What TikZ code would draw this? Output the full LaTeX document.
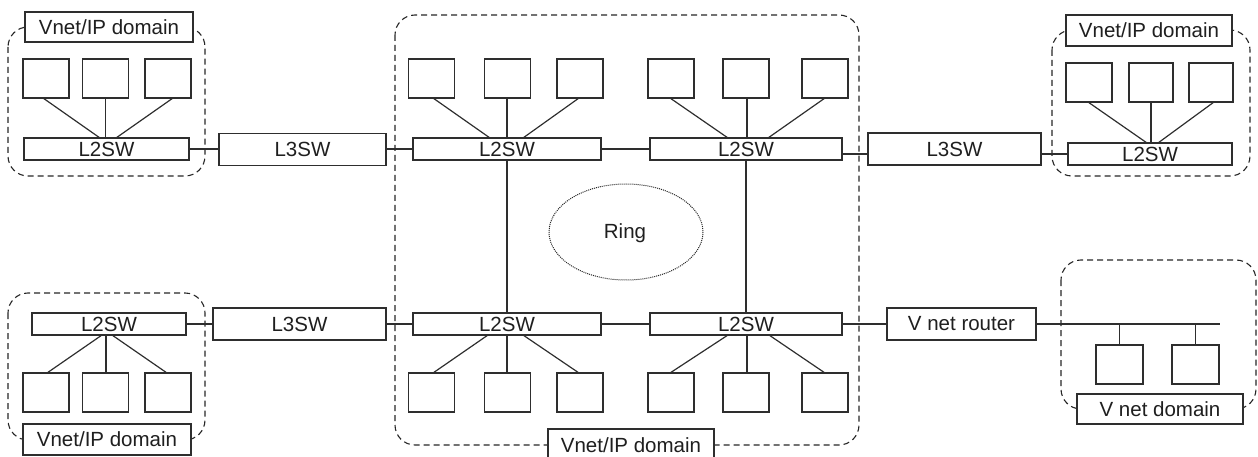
\documentclass[tikz,border=0pt]{standalone}
\usepackage{fontspec}
\setmainfont{Liberation Sans}
\begin{document}
\begin{tikzpicture}[x=1pt,y=-1pt,
  every node/.style={inner sep=0pt, outer sep=0pt, font=\fontsize{20.5}{24}\selectfont, text=black!88},
  ln/.style={draw=black!82, line width=1.2pt},
  dev/.style={ln, fill=white, minimum width=46pt, minimum height=39pt},
  sw/.style={ln, fill=white, minimum height=22pt},
  l3/.style={ln, fill=white, minimum height=32pt},
  lbl/.style={ln, fill=white, minimum height=31pt, minimum width=167pt},
  dom/.style={draw=black!85, line width=1.1pt, dash pattern=on 6pt off 4pt, rounded corners=20pt},
  ring/.style={draw=black!85, line width=1pt, dash pattern=on 1pt off 1pt}]
\useasboundingbox (0,0) rectangle (1258,457);

% domain outlines
\draw[dom] (8,27) rectangle (205,176);
\draw[dom] (395,15) rectangle (859,445);
\draw[dom] (1052,30) rectangle (1250,176);
\draw[dom] (8,293) rectangle (205,440);
\draw[dom] (1061,260) rectangle (1256,409);

% ring
\draw[ring] (626,232) ellipse [x radius=77, y radius=48];
\node (ringtxt) at (625,233) {Ring};

% top-left domain
\node[dev] (t1) at (46,78.5) {};
\node[dev] (t2) at (105.5,78.5) {};
\node[dev] (t3) at (168,78.5) {};
\node[sw, minimum width=165pt] (tl2) at (106.5,149) {L2SW};
\node[l3, minimum width=167pt] (tl3) at (302.5,149.5) {L3SW};

% centre top
\node[dev] (ca1) at (431.5,78.5) {};
\node[dev] (ca2) at (507.5,78.5) {};
\node[dev] (ca3) at (580,78.5) {};
\node[dev] (cb1) at (671,78.5) {};
\node[dev] (cb2) at (746,78.5) {};
\node[dev] (cb3) at (825,78.5) {};
\node[sw, minimum width=188pt] (cA) at (507,149) {L2SW};
\node[sw, minimum width=192pt] (cB) at (746,149) {L2SW};

% centre bottom
\node[dev] (cc1) at (431.5,392.5) {};
\node[dev] (cc2) at (507.5,392.5) {};
\node[dev] (cc3) at (580,392.5) {};
\node[dev] (cd1) at (671,392.5) {};
\node[dev] (cd2) at (746,392.5) {};
\node[dev] (cd3) at (825,392.5) {};
\node[sw, minimum width=188pt] (cC) at (507,324) {L2SW};
\node[sw, minimum width=192pt] (cD) at (746,324) {L2SW};

% top-right domain
\node[dev] (r1) at (1089,82.5) {};
\node[dev, minimum width=44pt] (r2) at (1151,82.5) {};
\node[dev, minimum width=44pt] (r3) at (1211,82.5) {};
\node[sw, minimum width=164pt] (tr2) at (1150,154) {L2SW};
\node[l3, minimum width=173pt] (tr3) at (954.5,149) {L3SW};

% bottom-left domain
\node[dev] (b1) at (46,392.5) {};
\node[dev] (b2) at (105.5,392.5) {};
\node[dev] (b3) at (168,392.5) {};
\node[sw, minimum width=154pt] (bl2) at (109,324) {L2SW};
\node[l3, minimum width=173pt] (bl3) at (299.5,324) {L3SW};

% bottom-right domain
\node[l3, minimum width=149pt] (rt) at (961.5,324) {V net router};
\node[dev, minimum width=47pt] (v1) at (1119.5,364.5) {};
\node[dev, minimum width=47pt] (v2) at (1195.5,364.5) {};
\coordinate (busend) at (1220,324);

% connectors: fans
\draw[ln] ([xshift=-3pt]t1.south) -- ([xshift=-6.5pt]tl2.north);
\draw[ln] (t2.south) -- (t2.south |- tl2.north);
\draw[ln] ([xshift=5pt]t3.south) -- ([xshift=9.5pt]tl2.north);

\draw[ln] ([xshift=1.5pt]ca1.south) -- ([xshift=-17pt]cA.north);
\draw[ln] (cA.north) -- (cA.north |- ca2.south);
\draw[ln] ([xshift=-1pt]ca3.south) -- ([xshift=16pt]cA.north);

\draw[ln] ([xshift=-1pt]cb1.south) -- ([xshift=-18pt]cB.north);
\draw[ln] ([xshift=1pt]cB.north) -- ([xshift=1pt]cB.north |- cb2.south);
\draw[ln] (cb3.south) -- ([xshift=22pt]cB.north);

\draw[ln] ([xshift=-19pt]cC.south) -- ([xshift=1.5pt]cc1.north);
\draw[ln] (cC.south) -- (cC.south |- cc2.north);
\draw[ln] ([xshift=16pt]cC.south) -- ([xshift=-1pt]cc3.north);

\draw[ln] ([xshift=-18pt]cD.south) -- ([xshift=-1pt]cd1.north);
\draw[ln] ([xshift=1pt]cD.south) -- ([xshift=1pt]cD.south |- cd2.north);
\draw[ln] ([xshift=23pt]cD.south) -- (cd3.north);

\draw[ln] ([xshift=-1pt]r1.south) -- ([xshift=-3pt]tr2.north);
\draw[ln] (r2.south) -- (r2.south |- tr2.north);
\draw[ln] ([xshift=3pt]r3.south) -- ([xshift=8pt]tr2.north);

\draw[ln] ([xshift=-7pt]bl2.south) -- ([xshift=1pt]b1.north);
\draw[ln] ([xshift=-3pt]bl2.south) -- ([xshift=-3pt]bl2.south |- b2.north);
\draw[ln] ([xshift=3pt]bl2.south) -- ([xshift=-1pt]b3.north);

% ring links
\draw[ln] (cA.south) -- (cC.north);
\draw[ln] (cB.south) -- (cD.north);

% horizontal links
\draw[ln] (tl2.east) -- (tl3.west |- tl2.east);
\draw[ln] (tl3.east |- cA.west) -- (cA.west);
\draw[ln] (cA.east) -- (cB.west);
\draw[ln] (cB.east |- tr2.west) -- (tr3.west |- tr2.west);
\draw[ln] (tr3.east |- tr2.west) -- (tr2.west);

\draw[ln] (bl2.east) -- (bl3.west |- bl2.east);
\draw[ln] (bl3.east) -- (cC.west);
\draw[ln] (cC.east) -- (cD.west);
\draw[ln] (cD.east) -- (rt.west);
\draw[ln] (rt.east) -- (busend);
\draw[ln] (v1.north) -- (v1.north |- busend);
\draw[ln] (v2.north) -- (v2.north |- busend);

% domain labels
\node[lbl, minimum width=168pt, minimum height=30pt] (ltl) at (109,27) {Vnet/IP domain};
\node[lbl, minimum width=166pt, minimum height=32pt] (lc) at (631,445) {Vnet/IP domain};
\node[lbl, minimum width=166pt] (ltr) at (1149,30.5) {Vnet/IP domain};
\node[lbl, minimum width=168pt] (lbl) at (107,439.5) {Vnet/IP domain};
\node[lbl, minimum width=166pt, minimum height=30pt] (lbr) at (1160,409) {V net domain};
\end{tikzpicture}
\end{document}
